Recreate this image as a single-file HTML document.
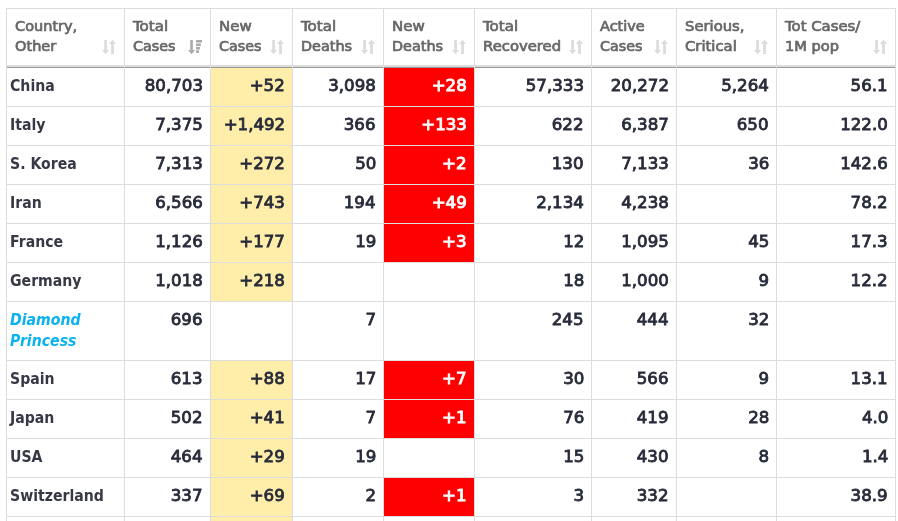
<!DOCTYPE html>
<html><head><meta charset="utf-8"><title>Coronavirus Cases</title>
<style>
html,body{margin:0;padding:0;background:#fff;}
body{width:898px;height:521px;overflow:hidden;position:relative;font-family:"DejaVu Sans","Liberation Sans",sans-serif;font-weight:normal;}
table{position:absolute;left:6px;top:8px;border-collapse:collapse;table-layout:fixed;width:890px;}
th,td{border:1px solid #ddd;box-sizing:border-box;}
th{height:59px;font-size:14px;line-height:20px;color:#686868;text-align:left;vertical-align:top;padding:7px 6px 0 8px;position:relative;border-bottom:1px solid #999;font-weight:normal;white-space:nowrap;-webkit-text-stroke:0.7px #686868;}
th .si{position:absolute;right:8px;top:30px;}
th span{display:inline-block;transform:scaleX(1.045);transform-origin:left center;}
td{height:39px;font-size:16px;line-height:21px;color:#282b3a;text-align:right;vertical-align:top;padding:7px 7px 0 3px;white-space:nowrap;-webkit-text-stroke:0.8px #282b3a;}
td span{display:inline-block;transform:scaleX(1.04);transform-origin:right center;}
td.c{color:#363945;text-align:left;font-size:15px;padding-left:3px;padding-top:8px;font-weight:bold;-webkit-text-stroke:0;}
td.c span{transform:scaleX(0.94);transform-origin:left center;}
td.y{background:#ffeeaa;}
td.r{background:#ff0000;color:#fff;-webkit-text-stroke:0.9px #fff;}
td.dp{font-style:italic;color:#0ab2ee;height:59px;}
.hl{position:absolute;left:6px;top:65px;width:890px;height:2px;background:#ddd;}
.tk{position:absolute;top:67px;width:1px;height:1px;background:#ddd;}
</style></head><body>
<table><colgroup>
<col style="width:118px">
<col style="width:86px">
<col style="width:82px">
<col style="width:91px">
<col style="width:91px">
<col style="width:117px">
<col style="width:85px">
<col style="width:100px">
<col style="width:119px">
</colgroup><thead><tr>
<th><span style="transform:scaleX(1.036)">Country,</span><br><span style="transform:scaleX(1.038)">Other</span><svg class="si" width="14" height="16" viewBox="0 0 14 16"><g transform="translate(0,0.4)"><path d="M2.200 .7h2.700v10H7.200L3.600 14.900 0 10.700h2.200z M9.100 14.600h2.800V4.600H14L10.500 .4 7 4.600h2.100z" fill="#dcdcdc"/></g></svg></th>
<th><span style="transform:scaleX(1.073)">Total</span><br><span style="transform:scaleX(1.02)">Cases</span><svg class="si" width="14" height="16" viewBox="0 0 14 16"><g transform="translate(0,0.4)"><path d="M2.200 .7h2.700v10H7.200L3.600 14.900 0 10.700h2.200z" fill="#adadad"/><path d="M8.100 .6h6.100v2.500H8.100z M8.100 4h4.700v2.600H8.100z M8.100 7.500h3.800v2.500H8.100z M8.100 10.900h2.800v2.600H8.100z" fill="#a8a8a8"/></g></svg></th>
<th><span style="transform:scaleX(1.072)">New</span><br><span style="transform:scaleX(1.02)">Cases</span><svg class="si" width="14" height="16" viewBox="0 0 14 16"><g transform="translate(0,0.4)"><path d="M2.200 .7h2.700v10H7.200L3.600 14.900 0 10.700h2.200z M9.100 14.600h2.800V4.600H14L10.500 .4 7 4.600h2.100z" fill="#dcdcdc"/></g></svg></th>
<th><span style="transform:scaleX(1.073)">Total</span><br><span style="transform:scaleX(1.029)">Deaths</span><svg class="si" width="14" height="16" viewBox="0 0 14 16"><g transform="translate(0,0.4)"><path d="M2.200 .7h2.700v10H7.200L3.600 14.900 0 10.700h2.200z M9.100 14.600h2.800V4.600H14L10.500 .4 7 4.600h2.100z" fill="#dcdcdc"/></g></svg></th>
<th><span style="transform:scaleX(1.072)">New</span><br><span style="transform:scaleX(1.029)">Deaths</span><svg class="si" width="14" height="16" viewBox="0 0 14 16"><g transform="translate(0,0.4)"><path d="M2.200 .7h2.700v10H7.200L3.600 14.900 0 10.700h2.200z M9.100 14.600h2.800V4.600H14L10.500 .4 7 4.600h2.100z" fill="#dcdcdc"/></g></svg></th>
<th><span style="transform:scaleX(1.073)">Total</span><br><span style="transform:scaleX(1.058)">Recovered</span><svg class="si" width="14" height="16" viewBox="0 0 14 16"><g transform="translate(0,0.4)"><path d="M2.200 .7h2.700v10H7.200L3.600 14.900 0 10.700h2.200z M9.100 14.600h2.800V4.600H14L10.500 .4 7 4.600h2.100z" fill="#dcdcdc"/></g></svg></th>
<th><span style="transform:scaleX(1.033)">Active</span><br><span style="transform:scaleX(1.02)">Cases</span><svg class="si" width="14" height="16" viewBox="0 0 14 16"><g transform="translate(0,0.4)"><path d="M2.200 .7h2.700v10H7.200L3.600 14.900 0 10.700h2.200z M9.100 14.600h2.800V4.600H14L10.500 .4 7 4.600h2.100z" fill="#dcdcdc"/></g></svg></th>
<th><span style="transform:scaleX(1.055)">Serious,</span><br><span style="transform:scaleX(1.058)">Critical</span><svg class="si" width="14" height="16" viewBox="0 0 14 16"><g transform="translate(0,0.4)"><path d="M2.200 .7h2.700v10H7.200L3.600 14.900 0 10.700h2.200z M9.100 14.600h2.800V4.600H14L10.500 .4 7 4.600h2.100z" fill="#dcdcdc"/></g></svg></th>
<th><span style="transform:scaleX(1.062)">Tot Cases/</span><br><span style="transform:scaleX(1.045)">1M pop</span><svg class="si" width="14" height="16" viewBox="0 0 14 16"><g transform="translate(0,0.4)"><path d="M2.200 .7h2.700v10H7.200L3.600 14.900 0 10.700h2.200z M9.100 14.600h2.800V4.600H14L10.500 .4 7 4.600h2.100z" fill="#dcdcdc"/></g></svg></th>
</tr></thead><tbody>
<tr>
<td class="c"><span>China</span></td>
<td><span>80,703</span></td>
<td class="y"><span>+52</span></td>
<td><span>3,098</span></td>
<td class="r"><span>+28</span></td>
<td><span>57,333</span></td>
<td><span>20,272</span></td>
<td><span>5,264</span></td>
<td><span>56.1</span></td>
</tr>
<tr>
<td class="c"><span>Italy</span></td>
<td><span>7,375</span></td>
<td class="y"><span>+1,492</span></td>
<td><span>366</span></td>
<td class="r"><span>+133</span></td>
<td><span>622</span></td>
<td><span>6,387</span></td>
<td><span>650</span></td>
<td><span>122.0</span></td>
</tr>
<tr>
<td class="c"><span>S. Korea</span></td>
<td><span>7,313</span></td>
<td class="y"><span>+272</span></td>
<td><span>50</span></td>
<td class="r"><span>+2</span></td>
<td><span>130</span></td>
<td><span>7,133</span></td>
<td><span>36</span></td>
<td><span>142.6</span></td>
</tr>
<tr>
<td class="c"><span>Iran</span></td>
<td><span>6,566</span></td>
<td class="y"><span>+743</span></td>
<td><span>194</span></td>
<td class="r"><span>+49</span></td>
<td><span>2,134</span></td>
<td><span>4,238</span></td>
<td></td>
<td><span>78.2</span></td>
</tr>
<tr>
<td class="c"><span>France</span></td>
<td><span>1,126</span></td>
<td class="y"><span>+177</span></td>
<td><span>19</span></td>
<td class="r"><span>+3</span></td>
<td><span>12</span></td>
<td><span>1,095</span></td>
<td><span>45</span></td>
<td><span>17.3</span></td>
</tr>
<tr>
<td class="c"><span>Germany</span></td>
<td><span>1,018</span></td>
<td class="y"><span>+218</span></td>
<td></td>
<td></td>
<td><span>18</span></td>
<td><span>1,000</span></td>
<td><span>9</span></td>
<td><span>12.2</span></td>
</tr>
<tr>
<td class="c dp"><span>Diamond<br>Princess</span></td>
<td><span>696</span></td>
<td></td>
<td><span>7</span></td>
<td></td>
<td><span>245</span></td>
<td><span>444</span></td>
<td><span>32</span></td>
<td></td>
</tr>
<tr>
<td class="c"><span>Spain</span></td>
<td><span>613</span></td>
<td class="y"><span>+88</span></td>
<td><span>17</span></td>
<td class="r"><span>+7</span></td>
<td><span>30</span></td>
<td><span>566</span></td>
<td><span>9</span></td>
<td><span>13.1</span></td>
</tr>
<tr>
<td class="c"><span>Japan</span></td>
<td><span>502</span></td>
<td class="y"><span>+41</span></td>
<td><span>7</span></td>
<td class="r"><span>+1</span></td>
<td><span>76</span></td>
<td><span>419</span></td>
<td><span>28</span></td>
<td><span>4.0</span></td>
</tr>
<tr>
<td class="c"><span>USA</span></td>
<td><span>464</span></td>
<td class="y"><span>+29</span></td>
<td><span>19</span></td>
<td></td>
<td><span>15</span></td>
<td><span>430</span></td>
<td><span>8</span></td>
<td><span>1.4</span></td>
</tr>
<tr>
<td class="c"><span>Switzerland</span></td>
<td><span>337</span></td>
<td class="y"><span>+69</span></td>
<td><span>2</span></td>
<td class="r"><span>+1</span></td>
<td><span>3</span></td>
<td><span>332</span></td>
<td></td>
<td><span>38.9</span></td>
</tr>
<tr>
<td class="c"></td>
<td></td>
<td class="y"><span>&nbsp;</span></td>
<td></td>
<td></td>
<td></td>
<td></td>
<td></td>
<td></td>
</tr>
</tbody></table><div class="hl"></div>
<i class="tk" style="left:6px"></i>
<i class="tk" style="left:124px"></i>
<i class="tk" style="left:210px"></i>
<i class="tk" style="left:292px"></i>
<i class="tk" style="left:383px"></i>
<i class="tk" style="left:474px"></i>
<i class="tk" style="left:591px"></i>
<i class="tk" style="left:676px"></i>
<i class="tk" style="left:776px"></i>
<i class="tk" style="left:895px"></i>
</body></html>
